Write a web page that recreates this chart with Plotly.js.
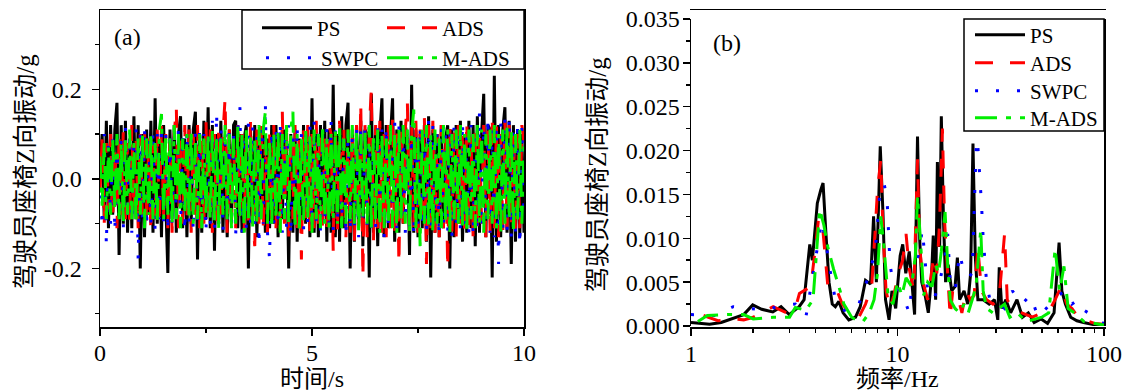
<!DOCTYPE html>
<html>
<head>
<meta charset="utf-8">
<script src="https://cdn.plot.ly/plotly-3.0.1.min.js"></script>
<style>html,body{margin:0;padding:0;background:#fff;}#chart{width:1130px;height:392px;}</style>
</head>
<body>
<div id="chart"></div>
<script>
// ---------- panel (a): time history, t = 0 ... 10 s, step 0.05 s ----------
const timeStep = 0.05;
const psTime = [0.02,0.10,-0.09,0.13,-0.11,0.12,-0.08,0.11,0.17,-0.17,0.12,-0.10,0.13,-0.12,0.09,-0.11,0.14,-0.09,0.12,-0.20,
0.10,-0.13,0.11,-0.08,0.13,-0.12,0.18,-0.10,0.08,-0.13,0.12,-0.07,-0.21,0.11,-0.09,0.12,-0.12,0.10,0.14,-0.11,
0.09,-0.13,0.12,-0.10,0.11,0.15,-0.18,0.10,-0.12,0.13,-0.09,0.16,-0.11,0.12,-0.16,0.10,-0.10,0.13,-0.12,0.08,
-0.13,0.11,-0.09,0.12,0.13,-0.11,0.10,-0.12,0.09,0.12,-0.20,0.11,-0.10,0.12,-0.13,0.10,-0.09,0.11,-0.12,0.09,
-0.11,0.12,-0.10,0.12,-0.13,0.10,-0.09,0.11,0.08,-0.20,0.10,-0.12,0.11,-0.14,0.09,-0.11,0.12,-0.10,0.11,-0.13,
0.18,-0.12,0.10,-0.13,0.12,-0.09,0.13,-0.14,0.11,-0.12,0.21,-0.13,0.10,-0.14,0.14,-0.11,0.12,0.17,-0.20,0.11,
-0.14,0.12,-0.10,0.13,-0.15,0.11,0.10,-0.22,0.19,-0.12,0.11,-0.15,0.10,0.18,-0.13,0.12,-0.11,0.09,0.18,-0.14,
0.11,-0.12,0.13,-0.10,0.12,0.09,-0.17,0.21,-0.12,0.11,-0.13,0.10,-0.11,0.12,-0.14,0.14,-0.22,0.11,-0.12,0.10,
-0.13,0.12,-0.11,0.09,0.12,-0.20,0.11,-0.13,0.12,-0.10,0.13,-0.14,0.10,-0.12,0.13,-0.11,0.12,-0.15,0.14,-0.12,
0.10,0.19,-0.13,0.12,0.11,-0.22,0.23,-0.14,0.12,-0.13,0.11,0.16,-0.12,0.13,-0.19,0.12,-0.14,0.11,-0.13,0.10,-0.12];
const adsTime = [-0.03,0.09,-0.10,0.08,-0.07,0.10,-0.09,0.07,-0.11,0.10,-0.08,0.11,-0.09,0.08,-0.10,0.12,-0.07,0.09,-0.11,0.10,
-0.08,0.11,-0.10,0.09,-0.12,0.08,-0.09,0.11,-0.10,0.12,-0.08,0.10,-0.11,0.09,-0.12,0.10,0.16,-0.11,0.09,-0.10,
0.12,-0.09,0.11,-0.12,0.10,-0.08,0.12,-0.11,0.09,-0.10,0.13,-0.09,0.11,-0.12,0.10,-0.11,0.12,-0.08,0.10,0.18,
-0.12,0.11,-0.10,0.09,-0.11,0.12,-0.09,0.10,-0.12,0.11,-0.10,0.13,-0.09,-0.15,0.11,-0.10,0.12,-0.11,0.09,-0.12,
0.10,-0.09,0.12,-0.11,0.10,-0.12,0.15,-0.10,0.11,-0.13,0.10,-0.09,0.12,-0.11,0.10,-0.18,0.11,-0.10,0.12,-0.12,
0.10,-0.11,0.13,-0.10,0.11,-0.12,0.09,-0.11,0.12,0.10,-0.16,0.11,-0.12,0.13,-0.10,0.12,-0.13,0.11,-0.12,0.10,
-0.14,0.12,-0.11,0.17,-0.22,0.12,-0.13,0.11,0.20,-0.14,0.12,-0.11,0.13,-0.12,0.10,-0.13,0.12,-0.11,0.14,-0.12,
0.11,-0.19,0.12,-0.10,0.11,0.17,-0.13,0.12,-0.11,0.13,-0.12,0.11,-0.10,0.14,-0.19,0.12,-0.11,0.13,-0.12,0.10,
-0.13,0.12,-0.11,0.10,-0.20,0.12,-0.12,0.11,-0.13,0.12,-0.10,0.11,-0.12,0.13,-0.11,0.10,-0.13,0.12,-0.12,0.11,
-0.10,0.12,-0.13,0.11,-0.12,0.14,-0.11,0.12,-0.13,0.10,-0.12,0.13,-0.11,0.12,-0.10,0.11,-0.12,0.10,-0.11,0.12,0.08];
const swpcTime = [0.01,-0.11,0.10,-0.15,0.08,-0.10,0.09,-0.12,0.11,-0.08,0.10,-0.11,0.12,-0.09,0.10,-0.12,0.09,0.11,-0.18,0.10,
-0.09,0.12,-0.11,0.09,-0.10,0.11,-0.12,0.10,-0.09,0.12,-0.10,0.11,-0.12,0.09,-0.11,0.10,-0.09,0.12,-0.11,0.10,
-0.12,0.11,-0.10,0.09,-0.12,0.11,-0.10,0.12,-0.09,0.10,-0.12,0.11,-0.10,0.13,-0.11,0.15,-0.10,0.12,-0.12,0.11,
-0.09,0.12,-0.11,0.10,-0.13,0.11,0.16,-0.12,0.10,-0.11,0.13,-0.10,0.12,-0.11,0.10,-0.15,0.12,-0.10,0.17,-0.12,
-0.18,0.11,-0.10,0.12,-0.11,0.13,-0.12,0.10,-0.11,0.12,-0.13,0.11,-0.10,0.12,-0.11,0.10,-0.12,0.11,-0.10,0.12,
-0.11,0.13,-0.10,0.11,-0.12,0.10,-0.11,0.12,-0.10,0.13,-0.12,0.11,-0.10,0.12,-0.11,0.10,-0.13,0.11,-0.12,0.10,
-0.11,0.12,-0.13,0.11,-0.10,0.12,-0.11,0.13,-0.12,0.10,-0.11,0.12,-0.10,0.11,-0.13,0.12,-0.11,0.10,-0.12,0.13,
-0.11,0.12,-0.10,0.11,-0.12,0.10,-0.11,0.12,-0.13,0.11,-0.10,0.12,-0.11,0.10,-0.12,0.13,-0.11,0.12,-0.10,0.11,
-0.13,0.12,-0.11,0.10,-0.12,0.11,-0.13,0.12,-0.10,0.11,-0.12,0.13,-0.11,0.10,-0.12,0.12,-0.13,0.11,-0.12,0.15,
-0.11,0.12,-0.10,0.14,-0.12,0.11,-0.13,0.12,-0.19,0.13,-0.11,0.14,-0.12,0.14,-0.13,0.11,-0.12,0.13,-0.15,0.12,-0.10];
const madsTime = [0.05,-0.06,0.08,-0.09,0.07,-0.08,0.09,-0.07,0.10,-0.09,0.08,-0.10,0.09,-0.08,0.11,-0.09,0.08,-0.10,0.09,-0.08,
0.10,-0.11,0.09,-0.08,0.10,-0.09,0.08,-0.10,0.11,0.145,-0.09,0.10,-0.08,0.09,-0.10,0.12,-0.09,0.10,-0.11,0.09,
-0.08,0.10,-0.09,0.11,-0.10,0.08,-0.09,0.10,-0.11,0.09,-0.08,0.10,-0.09,0.11,-0.10,0.09,-0.11,0.10,-0.08,0.12,
-0.09,0.10,-0.11,0.09,-0.10,0.12,-0.09,0.10,-0.12,0.11,-0.09,0.10,-0.11,0.09,-0.10,0.12,-0.09,0.11,0.15,-0.10,
0.09,-0.11,0.10,-0.09,0.11,-0.12,0.10,-0.09,0.12,-0.10,0.11,0.15,-0.11,0.10,-0.12,0.09,-0.10,0.11,-0.09,0.10,
-0.12,0.11,-0.09,0.10,-0.11,0.12,-0.10,0.09,-0.11,0.10,-0.09,0.11,-0.10,0.12,-0.11,0.09,-0.10,0.11,-0.09,0.12,
-0.10,0.11,-0.12,0.10,-0.09,0.11,-0.10,0.12,-0.11,0.10,-0.09,0.11,-0.12,0.10,-0.11,0.09,-0.10,0.12,-0.11,0.10,
-0.12,0.11,-0.09,0.12,-0.10,0.11,-0.12,0.10,0.155,-0.11,0.09,-0.15,0.11,-0.10,0.12,-0.11,0.10,-0.12,0.11,-0.10,
0.09,-0.11,0.12,-0.10,0.11,-0.12,0.10,-0.09,0.11,-0.10,0.12,-0.11,0.10,-0.12,0.11,-0.09,0.10,-0.11,0.12,-0.10,
0.11,-0.12,0.10,-0.09,0.11,-0.10,0.12,-0.11,0.10,-0.12,0.11,-0.10,0.12,-0.09,0.11,-0.12,0.10,-0.09,0.11,-0.10,0.09];
const timeTickVals = [-0.2, 0, 0.2];
const timeTickText = ['-0.2', '0.0', '0.2'];

// ---------- panel (b): spectra ----------
const psFreq = [1.0,1.1,1.23,1.4,1.6,1.8,1.99,2.2,2.49,2.73,2.99,3.15,3.34,3.53,3.76,3.87,4.09,4.25,4.36,4.49,
4.66,4.83,5.0,5.2,5.45,5.81,6.26,6.6,7.0,7.4,7.66,7.9,8.25,8.5,8.75,9.1,9.4,9.8,10.3,10.6,
10.97,11.4,11.9,12.1,12.5,12.8,13.1,13.6,14.1,14.6,14.9,15.3,15.6,16.0,16.3,16.7,17.1,17.6,18.3,19.0,
19.5,20.0,21.0,21.9,22.6,23.2,23.8,24.5,26.0,27.8,29.5,30.6,31.1,32.0,33.5,35.3,37.9,40.3,43.0,45.9,
49.6,53.3,57.3,60.6,62.5,65.0,69.0,73.9,79.6,86.0,91.5,100];
const psAmp = [0.0004,0.0003,0.0002,0.0004,0.0009,0.0013,0.0024,0.0019,0.0016,0.0022,0.0013,0.0017,0.0022,0.003,0.0093,0.0075,0.014,0.0155,0.0163,0.011,
0.005,0.0025,0.0022,0.0028,0.0015,0.0007,0.001,0.0022,0.0052,0.0048,0.0125,0.005,0.0205,0.013,0.003,0.0007,0.004,0.002,0.008,0.0093,
0.006,0.0085,0.0035,0.0013,0.0216,0.01,0.005,0.0035,0.0015,0.0055,0.0103,0.003,0.0187,0.009,0.0239,0.012,0.005,0.007,0.004,0.0045,
0.0078,0.003,0.004,0.0025,0.006,0.0208,0.008,0.003,0.003,0.0025,0.003,0.0007,0.0067,0.002,0.003,0.0015,0.003,0.001,0.0015,0.0004,
0.0008,0.0003,0.0015,0.0095,0.004,0.0025,0.001,0.0006,0.0004,0.0002,0.0001,0.0001];
const adsFreq = [1.15,1.35,1.6,1.8,2.0,2.2,2.5,2.9,3.2,3.35,3.8,4.0,4.15,4.35,4.45,4.6,5.0,5.4,6.0,6.5,
7.0,7.5,7.8,8.0,8.3,8.5,8.8,9.2,9.6,10.1,10.6,11.0,11.4,12.0,12.5,12.8,13.3,14,15,15.5,
16,16.5,16.9,17.5,18,18.5,19.5,20.5,21.5,22.5,23.5,24.5,25.5,27,29,31,32,33,34,36,
40,45,50,55,58,62,66,70,75,80,90,100];
const adsAmp = [0.0012,0.0006,0.0008,0.0007,0.001,0.0015,0.0022,0.0015,0.002,0.0037,0.0045,0.0088,0.0123,0.011,0.008,0.0045,0.0045,0.0025,0.0012,0.001,
0.0025,0.0045,0.011,0.0155,0.019,0.011,0.004,0.002,0.0035,0.006,0.0075,0.0105,0.0065,0.004,0.019,0.009,0.005,0.003,0.008,0.006,
0.012,0.0225,0.012,0.005,0.001,0.004,0.0035,0.0015,0.004,0.003,0.0035,0.009,0.004,0.003,0.0025,0.003,0.0065,0.0105,0.003,0.002,
0.0015,0.001,0.0015,0.002,0.003,0.0045,0.0025,0.002,0.001,0.0007,0.0003,0.0002];
const swpcFreq = [1.0,1.3,1.6,2.0,2.3,2.7,3.2,3.6,4.0,4.3,4.5,4.7,5.0,5.3,5.9,6.5,7.2,7.8,8.2,8.6,
8.9,9.2,9.6,10.2,10.8,11.4,12,12.6,13.2,14,15,16,17,17.5,18,19,20,21,22,23,
24.2,24.8,25.5,26,27,28,30,33,36,40,44,48,55,60,65,70,75,80,88,95,100];
const swpcAmp = [0.0013,0.0012,0.0022,0.002,0.0018,0.0023,0.0025,0.001,0.0075,0.012,0.0095,0.0065,0.003,0.002,0.0015,0.0025,0.0055,0.0085,0.015,0.0163,
0.0145,0.007,0.0045,0.004,0.003,0.0015,0.007,0.008,0.011,0.004,0.003,0.005,0.008,0.0105,0.005,0.004,0.0083,0.006,0.0055,0.006,
0.0225,0.019,0.014,0.01,0.005,0.003,0.003,0.002,0.004,0.0025,0.0035,0.001,0.0025,0.0035,0.004,0.0025,0.003,0.0018,0.0012,0.0005,0.0003];
const madsFreq = [1.08,1.2,1.5,1.8,2.0,2.5,3.0,3.2,3.6,3.9,4.2,4.4,4.6,4.9,5.2,5.5,6.0,6.3,6.8,7.3,
7.7,8.0,8.3,8.6,9.0,9.5,10,10.5,11,11.7,12.2,12.5,12.9,13.4,14,14.7,15.3,15.8,16.3,17,
17.5,18,19,20,21,22,23,24,25.3,26,27,29,31,33,35,38,42,46,50,54,
58,61,64,67,72,80,90,100];
const madsAmp = [0.0005,0.0012,0.0013,0.0013,0.0008,0.001,0.001,0.0021,0.0018,0.003,0.0133,0.0115,0.009,0.0065,0.0045,0.0025,0.001,0.0007,0.0005,0.0015,
0.003,0.006,0.0125,0.009,0.0035,0.0025,0.005,0.0035,0.0055,0.0045,0.008,0.0148,0.01,0.0035,0.005,0.0045,0.007,0.006,0.0085,0.013,
0.007,0.003,0.002,0.0015,0.0025,0.0015,0.003,0.0045,0.011,0.004,0.002,0.0015,0.002,0.0025,0.001,0.0015,0.0005,0.0008,0.001,0.0015,
0.0088,0.004,0.0068,0.002,0.0015,0.0005,0.0003,0.0001];

const seriesNames = ['PS', 'ADS', 'SWPC', 'M-ADS'];
const seriesColors = ['#000000', '#ff0000', '#0000ff', '#00ee00'];
const seriesDash = ['solid', '18px,17px', '3px,18px', '22px,9px,5px,9px'];

const timeAxis = psTime.map((_, i) => +(i * timeStep).toFixed(2));
const timeData = [psTime, adsTime, swpcTime, madsTime];
const specX = [psFreq, adsFreq, swpcFreq, madsFreq];
const specY = [psAmp, adsAmp, swpcAmp, madsAmp];

const FONT = "Liberation Serif, Noto Sans CJK SC, serif";
const W = 1130, H = 392;
const px = v => v / W, py = v => 1 - v / H;

// one single-entry legend per item, so each entry sits on its own spot
const legendIdsA = ['legend', 'legend2', 'legend3', 'legend4'];
const legendIdsB = ['legend5', 'legend6', 'legend7', 'legend8'];
const legendPosA = [[257, 28], [382, 28], [261, 58], [382, 58]];
const legendPosB = [[970, 35], [970, 63], [970, 91], [970, 118]];

const traces = [];
timeData.forEach((ys, k) => {
  traces.push({
    x: timeAxis, y: ys, type: 'scatter', mode: 'lines', name: seriesNames[k],
    xaxis: 'x', yaxis: 'y', legend: legendIdsA[k],
    line: {color: seriesColors[k], width: 3, dash: seriesDash[k]}
  });
});
specX.forEach((xs, k) => {
  traces.push({
    x: xs, y: specY[k], type: 'scatter', mode: 'lines', name: seriesNames[k],
    xaxis: 'x2', yaxis: 'y2', legend: legendIdsB[k],
    line: {color: seriesColors[k], width: 3, dash: seriesDash[k]}
  });
});

const axisCommon = {
  showline: true, linecolor: '#000', linewidth: 1.5, mirror: true,
  ticks: 'outside', ticklen: 7, tickwidth: 1.5, tickcolor: '#000',
  showgrid: false, zeroline: false, automargin: false,
  tickfont: {family: FONT, size: 24, color: '#000'}
};
const minorCommon = {ticks: 'outside', ticklen: 4, tickwidth: 1.5, tickcolor: '#000', showgrid: false};

const legendFont = {family: FONT, size: 21, color: '#000'};
const layout = {
  width: W, height: H,
  margin: {l: 0, r: 0, t: 0, b: 0},
  paper_bgcolor: '#fff', plot_bgcolor: '#fff',
  showlegend: true,
  xaxis: Object.assign({}, axisCommon, {
    domain: [px(100), px(524)], range: [0, 10], dtick: 5, tick0: 0, ticklabelstandoff: -3,
    minor: Object.assign({dtick: 2.5}, minorCommon)
  }),
  yaxis: Object.assign({}, axisCommon, {
    domain: [py(327), py(10)], range: [-0.3305, 0.377], ticklabelstandoff: 5,
    tickmode: 'array', tickvals: timeTickVals, ticktext: timeTickText,
    minor: Object.assign({tickmode: 'array', tickvals: [-0.3, -0.1, 0.1, 0.3]}, minorCommon)
  }),
  xaxis2: Object.assign({}, axisCommon, {
    domain: [px(691), px(1104)], type: 'log', range: [0, 2], dtick: 1, ticklabelstandoff: -2,
    minor: Object.assign({dtick: 'D1'}, minorCommon)
  }),
  yaxis2: Object.assign({}, axisCommon, {
    anchor: 'x2', ticklabelstandoff: -2,
    domain: [py(326), py(19)], range: [0, 0.035], dtick: 0.005, tickformat: '.3f',
    minor: Object.assign({dtick: 0.0025}, minorCommon)
  }),
  shapes: [
    {type: 'rect', xref: 'paper', yref: 'paper', layer: 'above',
     x0: px(242), x1: px(524), y0: py(69), y1: py(10),
     line: {color: '#000', width: 1.5}, fillcolor: '#fff'},
    {type: 'rect', xref: 'paper', yref: 'paper', layer: 'above',
     x0: px(964), x1: px(1104), y0: py(131), y1: py(19),
     line: {color: '#000', width: 1.5}, fillcolor: '#fff'}
  ],
  annotations: [
    {text: '(a)', x: px(127), y: py(37)},
    {text: '(b)', x: px(727), y: py(43)},
    {text: '时间/s', x: px(312), y: py(379)},
    {text: '频率/Hz', x: px(897), y: py(379)},
    {text: '驾驶员座椅Z向振动/g', x: px(26), y: py(172), textangle: -90, size: 25},
    {text: '驾驶员座椅Z向振动/g', x: px(597), y: py(175), textangle: -90, size: 25}
  ].map(a => ({
    text: a.text, x: a.x, y: a.y, xref: 'paper', yref: 'paper', showarrow: false,
    xanchor: 'center', yanchor: 'middle', textangle: a.textangle || 0,
    font: {family: FONT, size: a.size || 24, color: '#000'}
  }))
};
legendIdsA.concat(legendIdsB).forEach((id, i) => {
  const pos = i < 4 ? legendPosA[i] : legendPosB[i - 4];
  layout[id] = {
    x: px(pos[0]), y: py(pos[1]), xanchor: 'left', yanchor: 'middle', orientation: 'v',
    itemwidth: 50, bgcolor: 'rgba(0,0,0,0)', borderwidth: 0, font: legendFont
  };
});

Plotly.newPlot('chart', traces, layout, {staticPlot: true, displayModeBar: false});
</script>
</body>
</html>
